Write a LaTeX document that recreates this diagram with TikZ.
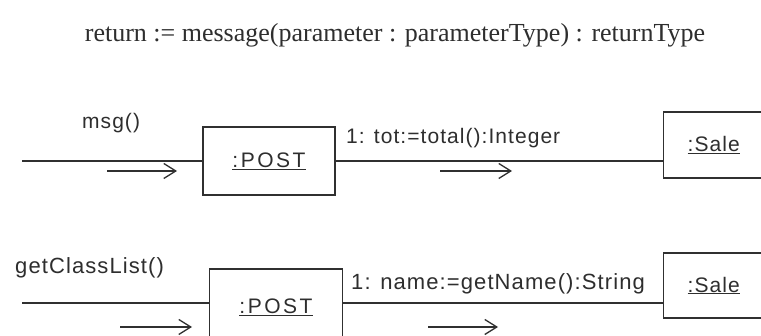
\documentclass[tikz,border=0pt]{standalone}
\usepackage{fontspec}
\setmainfont{Liberation Serif}
\newfontfamily\diagfont[LetterSpace=5]{Liberation Sans}
\newfontfamily\wideFont[LetterSpace=12]{Liberation Sans}
\usetikzlibrary{arrows.meta}
\definecolor{ink}{HTML}{303030}
\definecolor{txt}{HTML}{2E2E2E}
\begin{document}
\begin{tikzpicture}[x=1pt,y=-1pt,
  conn/.style={draw=ink, line width=1.4pt},
  objbox/.style={draw=ink, line width=1.4pt, fill=white, font=\diagfont\fontsize{21}{24}\selectfont, text=txt},
  msglabel/.style={font=\diagfont\fontsize{21}{24}\selectfont, text=txt, inner sep=0pt},
  biglabel/.style={font=\diagfont\fontsize{22}{26}\selectfont, text=txt, inner sep=0pt},
  flow/.style={draw=ink, line width=1.3pt, -{Straight Barb[length=12pt,width=15pt,line width=1.3pt]}}]
\useasboundingbox (0,0) rectangle (761,336);
\clip (0,0) rectangle (761,336);
\fill[white] (0,0) rectangle (761,336);
\node[font=\fontsize{26}{30}\selectfont, text=txt, inner sep=0pt] (title) at (395,35) {return := message(parameter : parameterType) : returnType};
% row 1
\node[objbox, minimum width=132pt, minimum height=68pt] (post1) at (269,161) {\wideFont\underline{:POST}};
\node[objbox, anchor=west, minimum height=66pt, text width=80pt, inner xsep=24pt, align=left] (sale1) at (663,145) {\underline{:Sale}};
\coordinate (in1) at (22,161);
\draw[conn] (in1) -- (in1 -| post1.west);
\draw[conn] (post1.east) -- (post1.east -| sale1.west);
\node[msglabel, anchor=west] (m1) at (82,123) {msg()};
\node[msglabel, anchor=west] (l1) at (346,138) {1: tot:=total():Integer};
\coordinate (a1s) at (107,171); \coordinate (a1e) at (177,171);
\draw[flow] (a1s) -- (a1e);
\coordinate (b1s) at (440,171); \coordinate (b1e) at (512,171);
\draw[flow] (b1s) -- (b1e);
% row 2
\node[objbox, minimum width=133pt, minimum height=76pt] (post2) at (276,307) {\wideFont\underline{:POST}};
\node[objbox, anchor=west, minimum height=65pt, text width=80pt, inner xsep=24pt, align=left] (sale2) at (663,285.5) {\underline{:Sale}};
\coordinate (in2) at (22,303);
\draw[conn] (in2) -- (in2 -| post2.west);
\draw[conn] (in2 -| post2.east) -- (in2 -| sale2.west);
\node[biglabel, anchor=west] (m2) at (15,268) {getClassList()};
\node[biglabel, anchor=west] (l2) at (351,284) {1: name:=getName():String};
\coordinate (a2s) at (120,327); \coordinate (a2e) at (192,327);
\draw[flow] (a2s) -- (a2e);
\coordinate (b2s) at (428,327); \coordinate (b2e) at (498,327);
\draw[flow] (b2s) -- (b2e);
\end{tikzpicture}
\end{document}
